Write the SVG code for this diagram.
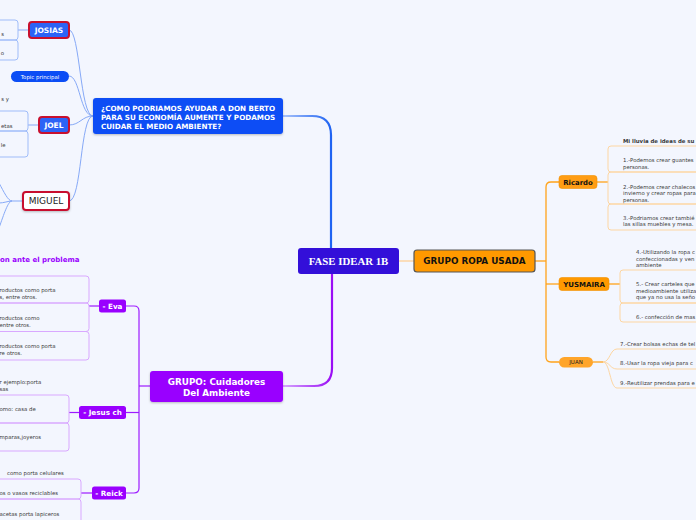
<svg xmlns="http://www.w3.org/2000/svg" width="696" height="520" viewBox="0 0 696 520">
<style>
.t{font-family:"DejaVu Sans","Verdana",sans-serif}
.b{font-weight:bold}
.item{font-family:"DejaVu Sans",sans-serif;font-size:5.4px;fill:#3a3a3a}
.bl{fill:none;stroke:#86a9f7;stroke-width:1}
.bbox{fill:none;stroke:#9fbcf9;stroke-width:1}
.ol{fill:none;stroke:#ffa31a;stroke-width:1.3}
.obox{fill:none;stroke:#fdd6a2;stroke-width:1}
.pl{fill:none;stroke:#9d1cff;stroke-width:1.2}
.pbox{fill:none;stroke:#d9a8ff;stroke-width:1}
.wt{fill:#fff}
</style>
<defs>
<filter id="sh" x="-10%" y="-20%" width="120%" height="150%">
<feDropShadow dx="0" dy="1" stdDeviation="0.8" flood-color="#000" flood-opacity="0.25"/>
</filter>
<linearGradient id="gb" gradientUnits="userSpaceOnUse" x1="283" y1="0" x2="331" y2="0">
<stop offset="0" stop-color="#a9c3fb"/><stop offset="1" stop-color="#1f63f2"/>
</linearGradient>
<linearGradient id="gp" gradientUnits="userSpaceOnUse" x1="283" y1="0" x2="332" y2="0">
<stop offset="0" stop-color="#d6a6ff"/><stop offset="1" stop-color="#9a0df5"/>
</linearGradient>
</defs>
<rect x="0" y="0" width="696" height="520" fill="#f3f6fe"/>

<g id="connectors">
<path d="M283,116 H312 Q331,116 331,135 V248" stroke="url(#gb)" stroke-width="2.2" fill="none"/>
<path d="M283,386 H314 Q332,386 332,368 V274" stroke="url(#gp)" stroke-width="2.2" fill="none"/>
<path d="M399,261 H414" stroke="#fcd5a4" stroke-width="1.5" fill="none"/>
<path class="bl" d="M93,116 C80,116 80,30 69,30"/>
<path class="bl" d="M93,116 C80,116 80,76 69,76"/>
<path class="bl" d="M93,116 C82,116 80,125 69,125"/>
<path class="bl" d="M93,116 C80,116 82,201 69,201"/>
<path class="bl" d="M29,30 H18" stroke-width="1.3"/>
<path class="bl" d="M39,125 H28" stroke-width="1.3"/>
<path class="bl" d="M23,201 H12"/>
<path class="bl" d="M12,201 C8,201 4,192 -1,183"/>
<path class="bl" d="M12,201 C8,201 4,203 -1,203"/>
<path class="bl" d="M12,201 C8,201 4,214 -1,228"/>
<path class="ol" d="M535,261 H546"/>
<path class="ol" d="M559,182 H551 Q546,182 546,187 V357 Q546,362 551,362 H559"/>
<path class="ol" d="M546,284 H559"/>
<path class="ol" d="M597,182 H608" stroke="#ffb347"/>
<path class="ol" d="M609,284 H620" stroke="#ffb347"/>
<path class="ol" d="M593,362 H603" stroke="#ffc170"/>
<path class="obox" d="M603,362 C610,362 610,349 617,349 H700"/>
<path class="obox" d="M603,362 C610,362 610,369 617,369 H700"/>
<path class="obox" d="M603,362 C610,362 610,388 617,388 H700"/>
<path class="pl" d="M126,306 H134 Q139,306 139,311 V488 Q139,493 134,493 H126"/>
<path class="pl" d="M126,412.5 H139"/>
<path class="pl" d="M139,386 H150"/>
<path class="pl" d="M99,306 H89"/>
<path class="pl" d="M79,412.5 H69"/>
<path class="pl" d="M92,493 H81"/>
</g>

<g id="central">
<rect x="298" y="248" width="101" height="26" rx="3" fill="#330fd9"/>
<text x="348.5" y="265" text-anchor="middle" font-family="Liberation Serif,serif" font-weight="bold" font-size="10.8" fill="#fff">FASE IDEAR 1B</text>
</g>

<g id="pregunta">
<rect x="93" y="98" width="190" height="36" rx="3" fill="#0b4df5" filter="url(#sh)"/>
<text class="t b wt" font-size="7.2"><tspan x="101" y="111">¿COMO PODRIAMOS AYUDAR A DON BERTO</tspan><tspan x="101" y="120">PARA SU ECONOMÍA AUMENTE Y PODAMOS</tspan><tspan x="101" y="129">CUIDAR EL MEDIO AMBIENTE?</tspan></text>
</g>

<g id="josias">
<rect x="29" y="22" width="40" height="16" rx="3" fill="#2c63f6" stroke="#c8102e" stroke-width="2"/>
<text x="49" y="33" text-anchor="middle" class="t b wt" font-size="7.5">JOSIAS</text>
</g>
<g id="josias-items">
<rect class="bbox" x="-60" y="20" width="78" height="20" rx="3"/>
<rect class="bbox" x="-60" y="40" width="78" height="20" rx="3"/>
<text class="item" x="4" y="35.5" text-anchor="end">s</text>
<text class="item" x="4" y="54.5" text-anchor="end">o</text>
</g>

<g id="topic">
<rect x="11" y="71" width="58" height="11" rx="5.5" fill="#0b4df5"/>
<text x="40" y="78.5" text-anchor="middle" class="t wt" font-size="5.4">Topic principal</text>
</g>

<g id="joel">
<rect x="39" y="117" width="30" height="16" rx="3" fill="#2c63f6" stroke="#c8102e" stroke-width="2"/>
<text x="54" y="128" text-anchor="middle" class="t b wt" font-size="7.5">JOEL</text>
</g>
<g id="joel-items">
<text class="item" x="9" y="101" text-anchor="end">s y</text>
<rect class="bbox" x="-60" y="111" width="88" height="20" rx="3"/>
<rect class="bbox" x="-60" y="131" width="88" height="26" rx="3"/>
<text class="item" x="12.5" y="127.5" text-anchor="end">etas</text>
<text class="item" x="5.5" y="147" text-anchor="end">le</text>
</g>

<g id="miguel">
<rect x="23" y="192" width="46" height="18" rx="3" fill="#fff" stroke="#c8102e" stroke-width="2" filter="url(#sh)"/>
<text x="46" y="204.3" text-anchor="middle" class="t" font-size="9" fill="#222">MIGUEL</text>
</g>

<g id="grupo-ropa">
<rect x="414" y="250" width="121" height="22" rx="3" fill="#ff9900" stroke="#555" stroke-width="1.2"/>
<text x="474.5" y="264.3" text-anchor="middle" class="t b" font-size="8.8" fill="#111">GRUPO ROPA USADA</text>
</g>

<g id="ricardo">
<rect x="559" y="175.5" width="38" height="13" rx="3" fill="#ff9d14" stroke="#f29000" stroke-width="0.6"/>
<text x="578" y="184.5" text-anchor="middle" class="t b" font-size="6.9" fill="#111">Ricardo</text>
</g>
<g id="ricardo-items">
<text class="item b" x="623" y="142.5" fill="#111">Mi lluvia de ideas de su</text>
<rect class="obox" x="608" y="146" width="120" height="26" rx="3"/>
<rect class="obox" x="608" y="172" width="120" height="32" rx="3"/>
<rect class="obox" x="608" y="204" width="120" height="26" rx="3"/>
<text class="item"><tspan x="623" y="161.5">1.-Podemos crear guantes</tspan><tspan x="623" y="168.5">personas.</tspan></text>
<text class="item"><tspan x="623" y="188.5">2.-Podemos crear chalecos</tspan><tspan x="623" y="195">invierno y crear ropas para</tspan><tspan x="623" y="201.5">personas.</tspan></text>
<text class="item"><tspan x="623" y="219.5">3.-Podriamos crear tambié</tspan><tspan x="623" y="226">las sillas muebles y mesa.</tspan></text>
</g>

<g id="yusmaira">
<rect x="559" y="277.5" width="50" height="13" rx="3" fill="#ff9900" stroke="#f29000" stroke-width="0.6"/>
<text x="584" y="286.6" text-anchor="middle" class="t b" font-size="7" fill="#111">YUSMAIRA</text>
</g>
<g id="yusmaira-items">
<text class="item"><tspan x="636" y="253.5">4.-Utilizando la ropa c</tspan><tspan x="636" y="260.5">confeccionadas y ven</tspan><tspan x="636" y="267">ambiente</tspan></text>
<rect class="obox" x="620" y="270" width="110" height="33" rx="3"/>
<rect class="obox" x="620" y="303" width="110" height="19" rx="3"/>
<text class="item"><tspan x="636" y="286">5.- Crear carteles que</tspan><tspan x="636" y="292.5">medioambiente utiliza</tspan><tspan x="636" y="299">que ya no usa la seño</tspan></text>
<text class="item" x="636" y="318.5">6.- confección de mas</text>
</g>

<g id="juan">
<rect x="559" y="357" width="34" height="10.5" rx="5.2" fill="#ffa52a"/>
<text x="576" y="364.3" text-anchor="middle" class="t" font-size="5.5" fill="#222">JUAN</text>
</g>
<g id="juan-items">
<text class="item" x="620" y="346">7.-Crear bolsas echas de tel</text>
<text class="item" x="620" y="365">8.-Usar la ropa vieja para c</text>
<text class="item" x="620" y="385">9.-Reutilizar prendas para e</text>
</g>

<g id="grupo-cuidadores">
<rect x="150" y="371" width="133" height="31" rx="3" fill="#9900ff" filter="url(#sh)"/>
<text text-anchor="middle" class="t b wt" font-size="8.8"><tspan x="216.5" y="384.5">GRUPO: Cuidadores</tspan><tspan x="216.5" y="396">Del Ambiente</tspan></text>
</g>

<g id="titulo-problema">
<text x="0" y="262" class="t b" font-size="7" fill="#9900ff">on ante el problema</text>
</g>

<g id="eva">
<rect x="99" y="299.5" width="27" height="13" rx="2.5" fill="#9900ff"/>
<text x="112.5" y="308.5" text-anchor="middle" class="t b wt" font-size="7.2">- Eva</text>
</g>
<g id="eva-items">
<rect class="pbox" x="-50" y="276" width="139" height="27" rx="3"/>
<rect class="pbox" x="-50" y="303" width="139" height="28.5" rx="3"/>
<rect class="pbox" x="-50" y="331.5" width="139" height="28.5" rx="3"/>
<text class="item"><tspan x="-0.5" y="292">roductos como porta</tspan><tspan x="-0.5" y="299">s, entre otros.</tspan></text>
<text class="item"><tspan x="-0.5" y="320">roductos como</tspan><tspan x="-0.5" y="327">entre otros.</tspan></text>
<text class="item"><tspan x="-0.5" y="348">roductos como porta</tspan><tspan x="-0.5" y="355">re otros.</tspan></text>
</g>

<g id="jesus">
<rect x="79" y="406" width="47" height="13" rx="2.5" fill="#9900ff"/>
<text x="102.5" y="415" text-anchor="middle" class="t b wt" font-size="7.2">- Jesus ch</text>
</g>
<g id="jesus-items">
<text class="item"><tspan x="-0.5" y="384">r ejemplo:porta</tspan><tspan x="-0.5" y="391">sas</tspan></text>
<rect class="pbox" x="-50" y="395" width="119" height="28" rx="3"/>
<rect class="pbox" x="-50" y="423" width="119" height="28" rx="3"/>
<text class="item" x="-0.5" y="411">omo:  casa de</text>
<text class="item" x="-0.5" y="439">mparas,joyeros</text>
</g>

<g id="reick">
<rect x="92" y="486.5" width="34" height="13" rx="2.5" fill="#9900ff"/>
<text x="109" y="495.5" text-anchor="middle" class="t b wt" font-size="7.2">- Reick</text>
</g>
<g id="reick-items">
<text class="item" x="7" y="475">como porta celulares</text>
<rect class="pbox" x="-50" y="479" width="131" height="20" rx="3"/>
<rect class="pbox" x="-50" y="499" width="131" height="30" rx="3"/>
<text class="item" x="-0.5" y="495">os o vasos reciclables</text>
<text class="item" x="-0.5" y="516">acetas porta lapiceros</text>
</g>
</svg>
